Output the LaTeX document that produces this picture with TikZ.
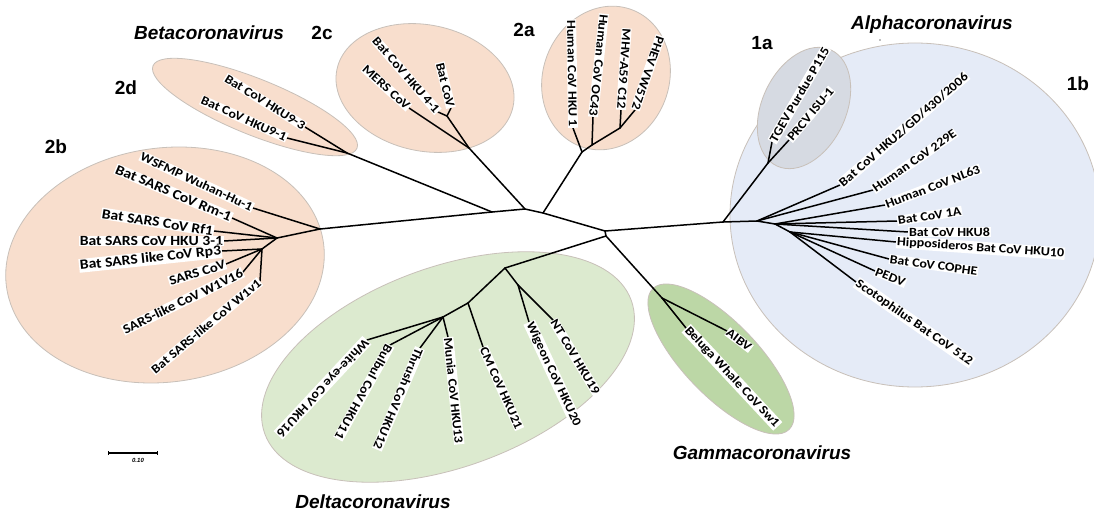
\documentclass[tikz,border=0pt]{standalone}
\usepackage{fontspec}
\usetikzlibrary{arrows.meta}
\newfontfamily\labfont[FakeStretch=1.12]{Carlito}
\newfontfamily\genfont{Liberation Sans}
\definecolor{salmon}{RGB}{248,222,205}
\definecolor{bluefill}{RGB}{229,235,247}
\definecolor{greyfill}{RGB}{214,218,226}
\definecolor{deltafill}{RGB}{220,234,207}
\definecolor{gammafill}{RGB}{188,215,166}
\definecolor{ellb}{RGB}{200,192,185}
\tikzset{
  br/.style={line width=1.5pt, black, line cap=round, line join=round},
  lf/.style={font=\labfont\bfseries\fontsize{12.5}{13}\selectfont, fill=white, inner sep=0.8pt},
  lw/.style={lf, anchor=west},
  le/.style={lf, anchor=east},
  lb/.style={le, font=\labfont\bfseries\fontsize{14}{15}\selectfont},
  lm/.style={le, font=\labfont\bfseries\fontsize{13.2}{14}\selectfont},
  genus/.style={font=\genfont\bfseries\itshape\fontsize{19}{20}\selectfont, inner sep=0pt},
  clus/.style={font=\genfont\bfseries\fontsize{19}{20}\selectfont, inner sep=0pt},
  ell/.style={draw=ellb, line width=0.8pt},
}
\begin{document}
\begin{tikzpicture}[x=1pt, y=-1pt]
\fill[white] (0,0) rectangle (1094,513);
\useasboundingbox (0,0) rectangle (1094,513);

% clade ellipses
\filldraw[ell, fill=bluefill] (915,215) ellipse (185 and 172);
\filldraw[ell, fill=greyfill, rotate around={65:(804,108)}] (804,108) ellipse (64 and 42);
\filldraw[ell, fill=salmon, rotate around={8:(165,265)}] (165,265) ellipse (160 and 117);
\filldraw[ell, fill=salmon, rotate around={-22:(255,107)}] (255,107) ellipse (110 and 28);
\filldraw[ell, fill=salmon, rotate around={-12:(425,88)}] (425,88) ellipse (90 and 63);
\filldraw[ell, fill=salmon, rotate around={69:(606,78)}] (606,78) ellipse (73 and 63);
\filldraw[ell, fill=deltafill, rotate around={20:(448,367)}] (448,367) ellipse (195 and 100);
\filldraw[ell, fill=gammafill, rotate around={-46:(721,359)}] (721,359) ellipse (98 and 37);

% internal nodes
\coordinate (J1) at (492,212);
\coordinate (J2) at (525,209);
\coordinate (J3) at (543,213);
\coordinate (J4) at (605,231);
\coordinate (J5) at (606,236);
\coordinate (D) at (347,153);
\coordinate (B1) at (320,229);
\coordinate (B2) at (277,238);
\coordinate (B3) at (262,249);
\coordinate (C1) at (469,148);
\coordinate (C2) at (447,116);
\coordinate (P1) at (582,152);
\coordinate (P2) at (592,145);
\coordinate (P3) at (620,128);
\coordinate (A1) at (723,222);
\coordinate (A1a) at (768,163);
\coordinate (A2) at (757,221);
\coordinate (A3) at (775,224);
\coordinate (A4) at (790,232);
\coordinate (E1) at (505,268);
\coordinate (E1a) at (518,285);
\coordinate (E2) at (468,303);
\coordinate (E3) at (443,317);
\coordinate (G1) at (662,298);

% leaf tips
\coordinate (tH93) at (305,127);
\coordinate (tH91) at (287,138);
\coordinate (tWS) at (253,208);
\coordinate (tRm) at (232,218);
\coordinate (tRf) at (214,231);
\coordinate (tH31) at (224,241);
\coordinate (tRp) at (222,251);
\coordinate (tSA) at (226,264);
\coordinate (tW16) at (243,272);
\coordinate (tW1) at (260,281);
\coordinate (tME) at (409,108);
\coordinate (tH41) at (438,112);
\coordinate (tBC) at (451,108);
\coordinate (tHK1) at (573,128);
\coordinate (tOC) at (593,117);
\coordinate (tMH) at (621,110);
\coordinate (tPH) at (635,110);
\coordinate (tTG) at (772,142);
\coordinate (tPR) at (789,140);
\coordinate (tHK2) at (840,185);
\coordinate (t229) at (873,190);
\coordinate (tNL) at (885,205);
\coordinate (t1A) at (897,221);
\coordinate (tHK8) at (908,232);
\coordinate (tHi) at (896,242);
\coordinate (tCO) at (889,259);
\coordinate (tPE) at (875,271);
\coordinate (tSc) at (856,282);
\coordinate (tWE) at (367,340);
\coordinate (tBu) at (390,345);
\coordinate (tTh) at (420,348);
\coordinate (tMu) at (448,337);
\coordinate (tCM) at (483,347);
\coordinate (tWi) at (529,322);
\coordinate (tNT) at (553,320);
\coordinate (tAI) at (727,331);
\coordinate (tBe) at (686,328);

% branches
\draw[br] (J1) -- (J2) -- (J3) -- (J4) -- (J5);
\draw[br] (J1) -- (D);
\draw[br] (J1) -- (B1);
\draw[br] (J2) -- (C1);
\draw[br] (J3) -- (P1);
\draw[br] (J4) -- (A1);
\draw[br] (J5) -- (E1);
\draw[br] (J5) -- (G1);
\draw[br] (D) -- (tH93);
\draw[br] (D) -- (tH91);
\draw[br] (B1) -- (tWS);
\draw[br] (B1) -- (B2);
\draw[br] (B2) -- (tRm);
\draw[br] (B2) -- (tRf);
\draw[br] (B2) -- (tH31);
\draw[br] (B2) -- (B3);
\draw[br] (B3) -- (tRp);
\draw[br] (B3) -- (tSA);
\draw[br] (B3) -- (tW16);
\draw[br] (B3) -- (tW1);
\draw[br] (C1) -- (tME);
\draw[br] (C1) -- (C2);
\draw[br] (C2) -- (tH41);
\draw[br] (C2) -- (tBC);
\draw[br] (P1) -- (tHK1);
\draw[br] (P1) -- (P2);
\draw[br] (P2) -- (tOC);
\draw[br] (P2) -- (P3);
\draw[br] (P3) -- (tMH);
\draw[br] (P3) -- (tPH);
\draw[br] (A1) -- (A1a);
\draw[br] (A1a) -- (tTG);
\draw[br] (A1a) -- (tPR);
\draw[br] (A1) -- (A2);
\draw[br] (A2) -- (tHK2);
\draw[br] (A2) -- (t229);
\draw[br] (A2) -- (A3);
\draw[br] (A3) -- (tNL);
\draw[br] (A3) -- (t1A);
\draw[br] (A3) -- (tHK8);
\draw[br] (A3) -- (A4);
\draw[br] (A4) -- (tHi);
\draw[br] (A4) -- (tCO);
\draw[br] (A4) -- (tPE);
\draw[br] (A4) -- (tSc);
\draw[br] (E1) -- (E1a);
\draw[br] (E1a) -- (tWi);
\draw[br] (E1a) -- (tNT);
\draw[br] (E1) -- (E2);
\draw[br] (E2) -- (tCM);
\draw[br] (E2) -- (E3);
\draw[br] (E3) -- (tMu);
\draw[br] (E3) -- (tTh);
\draw[br] (E3) -- (tBu);
\draw[br] (E3) -- (tWE);
\draw[br] (G1) -- (tAI);
\draw[br] (G1) -- (tBe);

% leaf labels
\node[le, rotate=-32] (lH93) at (tH93) {Bat CoV HKU9-3};
\node[le, rotate=-24] (lH91) at (tH91) {Bat CoV HKU9-1};
\node[le, rotate=-25] (lWS) at (tWS) {WSFMP Wuhan-Hu-1};
\node[lb, rotate=-23] (lRm) at (tRm) {Bat SARS CoV Rm-1};
\node[lb, rotate=-9] (lRf) at (tRf) {Bat SARS CoV Rf1};
\node[lb, rotate=0] (lH31) at (tH31) {Bat SARS CoV HKU 3-1};
\node[lb, rotate=6] (lRp) at (tRp) {Bat SARS like CoV Rp3};
\node[lm, rotate=17] (lSA) at (tSA) {SARS CoV};
\node[lm, rotate=26] (lW16) at (tW16) {SARS-like CoV W1V16};
\node[le, rotate=40] (lW1) at (tW1) {Bat SARS-like CoV W1v1};
\node[le, rotate=-42] (lME) at (tME) {MERS CoV};
\node[le, rotate=-49] (lH41) at (tH41) {Bat CoV HKU 4-1};
\node[le, rotate=-76] (lBC) at (tBC) {Bat CoV};
\node[le, rotate=-89] (lHK1) at (tHK1) {Human CoV HKU 1};
\node[le, rotate=-96] (lOC) at (tOC) {Human CoV OC43};
\node[le, rotate=-94] (lMH) at (tMH) {MHV-A59 C12};
\node[le, rotate=-109] (lPH) at (tPH) {PHEV VW572};
\node[lw, rotate=60] (lTG) at (tTG) {TGEV Purdue P115};
\node[lw, rotate=50] (lPR) at (tPR) {PRCV ISU-1};
\node[lw, rotate=41] (lHK2) at (tHK2) {Bat CoV HKU2/GD/430/2006};
\node[lw, rotate=35] (l229) at (t229) {Human CoV 229E};
\node[lw, rotate=21] (lNL) at (tNL) {Human CoV NL63};
\node[lw, rotate=9] (l1A) at (t1A) {Bat CoV 1A};
\node[lw, rotate=0] (lHK8) at (tHK8) {Bat CoV HKU8};
\node[lw, rotate=-4] (lHi) at (tHi) {Hipposideros Bat CoV HKU10};
\node[lw, rotate=-8] (lCO) at (tCO) {Bat CoV COPHE};
\node[lw, rotate=-22] (lPE) at (tPE) {PEDV};
\node[lw, rotate=-35] (lSc) at (tSc) {Scotophilus Bat CoV 512};
\node[lw, rotate=-133] (lWE) at (tWE) {White-eye CoV HKU16};
\node[lw, rotate=-119] (lBu) at (tBu) {Bulbul CoV HKU11};
\node[lw, rotate=-113] (lTh) at (tTh) {Thrush CoV HKU12};
\node[lw, rotate=-84] (lMu) at (tMu) {Munia CoV HKU13};
\node[lw, rotate=-66] (lCM) at (tCM) {CM CoV HKU21};
\node[lw, rotate=-65] (lWi) at (tWi) {Wigeon CoV HKU20};
\node[lw, rotate=-59] (lNT) at (tNT) {NT CoV HKU19};
\node[lw, rotate=-37] (lAI) at (tAI) {AIBV};
\node[lw, rotate=-47] (lBe) at (tBe) {Beluga Whale CoV Sw1};

% genus and cluster titles
\node[genus] (gBeta) at (209,33) {Betacoronavirus};
\node[genus] (gAlpha) at (932,25) {Alphacoronavirus};
\node[genus] (gGamma) at (762,453) {Gammacoronavirus};
\node[genus] (gDelta) at (373,502) {Deltacoronavirus};
\node[clus] (c2c) at (322,33) {2c};
\node[clus] (c2a) at (524,30) {2a};
\node[clus] (c2d) at (126,88) {2d};
\node[clus] (c2b) at (56,147) {2b};
\node[clus] (c1a) at (762,43) {1a};
\node[clus] (c1b) at (1078,84) {1b};
\fill[gray] (880,40) circle (0.9);

% scale bar
\coordinate (sb1) at (108,453);
\coordinate (sb2) at (158,453);
\draw[line width=1.2pt, {Bar[width=4pt]}-{Bar[width=4pt]}] (sb1) -- (sb2);
\node[font=\genfont\bfseries\itshape\fontsize{6}{6}\selectfont, inner sep=0pt] (sbl) at (138,460) {0.10};
\end{tikzpicture}
\end{document}
